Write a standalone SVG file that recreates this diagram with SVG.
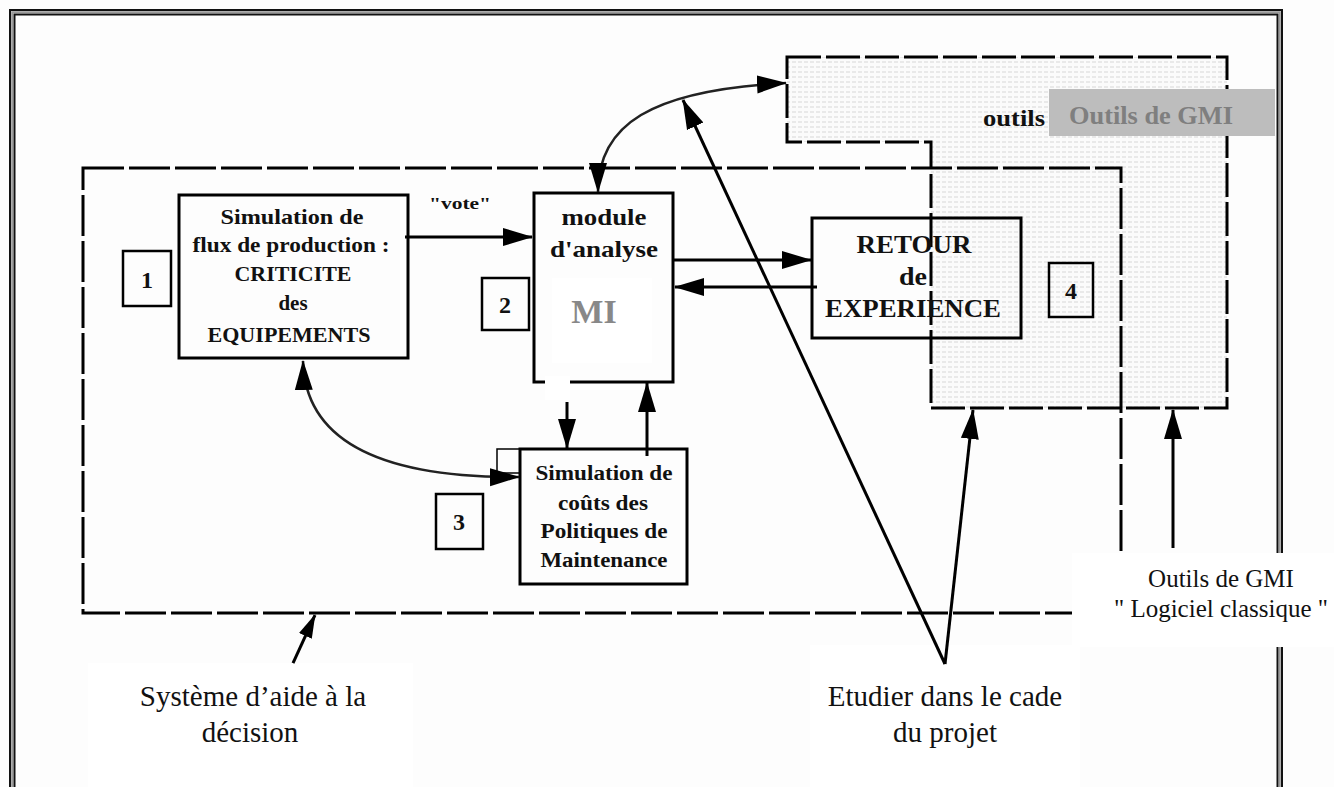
<svg xmlns="http://www.w3.org/2000/svg" width="1334" height="787" viewBox="0 0 1334 787">
  <defs>
    <style>
      .frame { fill: none; stroke: #111; stroke-width: 2; }
      .frame-mid { fill: none; stroke: #9a9a9a; stroke-width: 2; }
      .box { fill: none; stroke: #000; stroke-width: 3; }
      .num { fill: none; stroke: #000; stroke-width: 2.5; }
      .dash { fill: none; stroke: #000; stroke-width: 3; stroke-dasharray: 41 5; }
      .dash-gmi { stroke: #000; stroke-width: 3; stroke-dasharray: 34 5; }
      .wire { fill: none; stroke: #000; stroke-width: 3; }
      .curve { fill: none; stroke: #222; stroke-width: 2.6; }
      .bt { font-family: "Liberation Serif", "Times New Roman", serif; font-weight: bold; fill: #111; text-anchor: middle; }
      .lbl { font-family: "Liberation Serif", "Times New Roman", serif; fill: #111; text-anchor: middle; }
    </style>
    <pattern id="dots" width="6" height="5" patternUnits="userSpaceOnUse">
      <rect width="6" height="5" fill="#fbfbfb"/>
      <rect x="0" y="1" width="4" height="2" fill="#e9e9e9"/>
    </pattern>
    <marker id="ah" viewBox="0 0 30 20" refX="29" refY="10" markerWidth="30" markerHeight="20" markerUnits="userSpaceOnUse" orient="auto-start-reverse">
      <path d="M0,1 L30,10 L0,19 Z" fill="#000"/>
    </marker>
    <marker id="ah-s" viewBox="0 0 24 16" refX="23" refY="8" markerWidth="24" markerHeight="16" markerUnits="userSpaceOnUse" orient="auto-start-reverse">
      <path d="M0,1 L24,8 L0,15 Z" fill="#000"/>
    </marker>
  </defs>

  <!-- page background -->
  <rect x="0" y="0" width="1334" height="787" fill="#fdfdfd"/>

  <!-- double page frame (open at the bottom) -->
  <g id="frame">
    <rect class="frame-mid" x="12.2" y="12.2" width="1267.6" height="800"/>
    <rect class="frame" x="10" y="10" width="1272" height="800"/>
    <rect class="frame" x="14.5" y="14.5" width="1263" height="800"/>
  </g>

  <!-- GMI tools area: stepped dotted region -->
  <g id="gmi-area">
    <path d="M787 57 H1227 V408 H931 V142 H787 Z" fill="url(#dots)"/>
    <path class="dash-gmi" fill="none" d="M787 57 H1227 V408 H931 V142 H787 Z"/>
    <rect x="1049" y="89" width="226" height="47" fill="#bdbdbd"/>
    <text class="bt" x="1014" y="126" font-size="24" textLength="62" lengthAdjust="spacingAndGlyphs">outils</text>
    <text class="bt" x="1151" y="124" font-size="26" style="fill:#7f7f7f" textLength="164" lengthAdjust="spacingAndGlyphs">Outils de GMI</text>
  </g>

  <!-- decision support system boundary -->
  <g id="decision-system">
    <rect class="dash" x="83" y="168" width="1038" height="445"/>
  </g>

  <!-- caption backgrounds -->
  <g id="caption-backs" fill="#ffffff">
    <rect x="88" y="663" width="325" height="124"/>
    <rect x="810" y="645" width="270" height="142"/>
    <rect x="1072" y="553" width="262" height="94"/>
  </g>

  <!-- node 1: production flow simulation -->
  <g id="node-flux">
    <rect class="box" x="179" y="195" width="229" height="163"/>
    <text class="bt" x="292" y="224" font-size="21" textLength="143" lengthAdjust="spacingAndGlyphs">Simulation de</text>
    <text class="bt" x="291" y="252" font-size="21" textLength="197" lengthAdjust="spacingAndGlyphs">flux de production :</text>
    <text class="bt" x="293" y="281" font-size="21" textLength="117" lengthAdjust="spacingAndGlyphs">CRITICITE</text>
    <text class="bt" x="293" y="310" font-size="21">des</text>
    <text class="bt" x="289" y="342" font-size="21" textLength="163" lengthAdjust="spacingAndGlyphs">EQUIPEMENTS</text>
  </g>
  <g id="tag-1">
    <rect class="num" x="123" y="251" width="48" height="55"/>
    <text class="bt" x="147" y="288" font-size="24">1</text>
  </g>

  <!-- node 2: analysis module -->
  <g id="node-module">
    <rect x="552" y="278" width="100" height="85" fill="#ffffff"/>
    <rect class="box" x="534" y="193" width="139" height="189"/>
    <rect x="545" y="376" width="25" height="24" fill="#ffffff"/>
    <text class="bt" x="604" y="225" font-size="24" textLength="85" lengthAdjust="spacingAndGlyphs">module</text>
    <text class="bt" x="604" y="257" font-size="24" textLength="108" lengthAdjust="spacingAndGlyphs">d'analyse</text>
    <text class="bt" x="594" y="323" font-size="34" style="fill:#888888">MI</text>
  </g>
  <g id="tag-2">
    <rect class="num" x="482" y="278" width="47" height="52"/>
    <text class="bt" x="505" y="313" font-size="24">2</text>
  </g>

  <!-- node 3: maintenance cost simulation -->
  <g id="node-couts">
    <rect x="497" y="449" width="23" height="24" fill="none" stroke="#000" stroke-width="1.5"/>
    <rect class="box" x="520" y="449" width="167" height="135"/>
    <text class="bt" x="604" y="480" font-size="20" textLength="137" lengthAdjust="spacingAndGlyphs">Simulation de</text>
    <text class="bt" x="603" y="510" font-size="20" textLength="90" lengthAdjust="spacingAndGlyphs">coûts des</text>
    <text class="bt" x="604" y="538" font-size="20" textLength="127" lengthAdjust="spacingAndGlyphs">Politiques de</text>
    <text class="bt" x="604" y="567" font-size="20" textLength="127" lengthAdjust="spacingAndGlyphs">Maintenance</text>
  </g>
  <g id="tag-3">
    <rect class="num" x="436" y="494" width="47" height="55"/>
    <text class="bt" x="459" y="530" font-size="24">3</text>
  </g>

  <!-- node 4: experience feedback -->
  <g id="node-retour">
    <rect class="box" x="812" y="218" width="209" height="120"/>
    <text class="bt" x="914" y="253" font-size="25" textLength="115" lengthAdjust="spacingAndGlyphs">RETOUR</text>
    <text class="bt" x="913" y="285" font-size="25" textLength="28" lengthAdjust="spacingAndGlyphs">de</text>
    <text class="bt" x="913" y="317" font-size="25" textLength="176" lengthAdjust="spacingAndGlyphs">EXPERIENCE</text>
  </g>
  <g id="tag-4">
    <rect class="num" x="1049" y="263" width="44" height="54"/>
    <text class="bt" x="1071" y="299" font-size="24">4</text>
  </g>

  <!-- connectors -->
  <g id="connectors">
    <path class="wire" d="M405 237 H532" marker-end="url(#ah)"/>
    <text class="bt" x="460" y="209" font-size="16" textLength="62" lengthAdjust="spacingAndGlyphs">"vote"</text>
    <path class="wire" d="M674 260 H811" marker-end="url(#ah)"/>
    <path class="wire" d="M817 287 H675" marker-end="url(#ah)"/>
    <path class="wire" d="M567 402 V448" marker-end="url(#ah)"/>
    <path class="wire" d="M647 456 V383" marker-end="url(#ah)"/>
    <path class="curve" d="M598 192 C598 125 650 90 786 83" marker-start="url(#ah)" marker-end="url(#ah)"/>
    <path class="curve" d="M303 361 C305 435 370 478 519 477" marker-start="url(#ah)" marker-end="url(#ah)"/>
    <path class="wire" d="M945 664 L683 100" marker-end="url(#ah)"/>
    <path class="wire" d="M945 664 L973 410" marker-end="url(#ah)"/>
    <path class="wire" d="M1173 548 V410" marker-end="url(#ah)"/>
    <path class="wire" d="M293 663 L315 615" marker-end="url(#ah-s)"/>
  </g>

  <!-- captions -->
  <g id="caption-systeme">
    <text class="lbl" x="253" y="706" font-size="29">Système d’aide à la</text>
    <text class="lbl" x="250" y="742" font-size="29">décision</text>
  </g>
  <g id="caption-etudier">
    <text class="lbl" x="945" y="706" font-size="29">Etudier dans le cade</text>
    <text class="lbl" x="945" y="742" font-size="29">du projet</text>
  </g>
  <g id="caption-gmi">
    <text class="lbl" x="1221" y="587" font-size="25">Outils de GMI</text>
    <text class="lbl" x="1221" y="617" font-size="25">" Logiciel classique "</text>
  </g>
</svg>
